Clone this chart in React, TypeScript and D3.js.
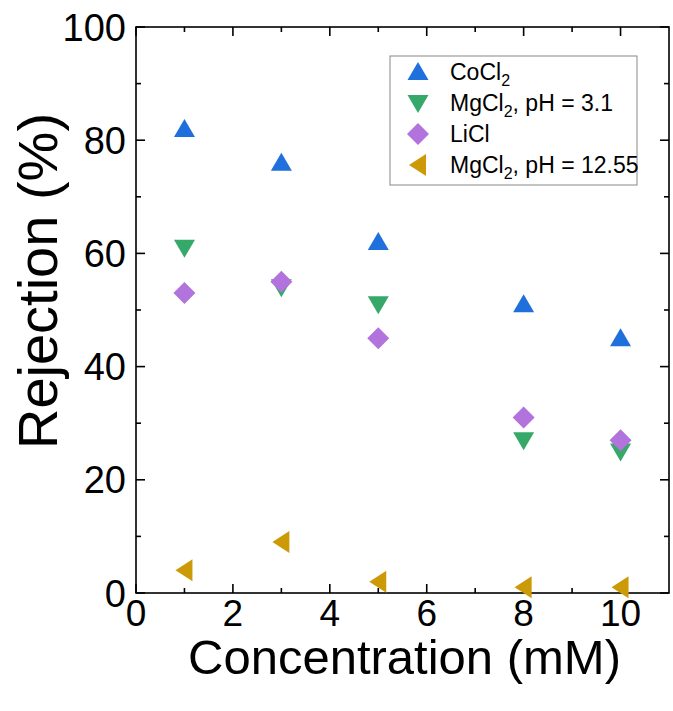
import React from "react";
import * as d3 from "d3";

// concentrations (mM)
const conc = [1, 3, 5, 8, 10];
// rejection (%) per salt
const coCl2 = [82, 76, 62, 51, 45];
const mgCl2Acid = [61, 54, 51, 27, 25];
const liCl = [53, 55, 45, 31, 27];
const mgCl2Base = [4, 9, 2, 1, 1];

const xTicks = [0, 2, 4, 6, 8, 10];
const yTicks = [0, 20, 40, 60, 80, 100];

const W = 673;
const H = 711;
const margin = { top: 27, right: 4, bottom: 118, left: 136 };

const FONT = "Liberation Sans, Arial, sans-serif";

// marker shapes centred on 0,0
const shapes: Record<string, string> = {
  up: "M0,-10L10.5,8L-10.5,8Z",
  down: "M0,10L10.5,-8L-10.5,-8Z",
  diamond: "M0,-11L11,0L0,11L-11,0Z",
  left: "M-9,0L8,-11L8,11Z",
};

const series = [
  { name: "CoCl", sub: "2", rest: "", values: coCl2, color: "#1f6fdc", shape: "up" },
  { name: "MgCl", sub: "2", rest: ", pH = 3.1", values: mgCl2Acid, color: "#36a86a", shape: "down" },
  { name: "LiCl", sub: "", rest: "", values: liCl, color: "#b273dc", shape: "diamond" },
  { name: "MgCl", sub: "2", rest: ", pH = 12.55", values: mgCl2Base, color: "#cc9a07", shape: "left" },
];

export default function App() {
  const x = d3.scaleLinear().domain([0, 11]).range([margin.left, W - margin.right]);
  const y = d3.scaleLinear().domain([0, 100]).range([H - margin.bottom, margin.top]);
  const x0 = x.range()[0], x1 = x.range()[1];
  const y0 = y.range()[0], y1 = y.range()[1];

  const xMinor = d3.range(1, 11, 2);
  const yMinor = d3.range(10, 100, 20);
  const maj = 9, mnr = 5;

  return (
    <svg width={W} height={H} style={{ position: "absolute", left: 0, top: 0, background: "#fff" }}>
      {/* frame */}
      <rect x={x0} y={y1} width={x1 - x0} height={y0 - y1} fill="none" stroke="#000" strokeWidth={1.6} />
      {/* x ticks, inward, bottom and top */}
      {xTicks.map((t) => (
        <g key={"xt" + t}>
          <line x1={x(t)} x2={x(t)} y1={y0} y2={y0 - maj} stroke="#000" strokeWidth={1.6} />
          <line x1={x(t)} x2={x(t)} y1={y1} y2={y1 + maj} stroke="#000" strokeWidth={1.6} />
          <text x={x(t)} y={y0 + 33} textAnchor="middle" fontFamily={FONT} fontSize={37}>{t}</text>
        </g>
      ))}
      {xMinor.map((t) => (
        <g key={"xm" + t}>
          <line x1={x(t)} x2={x(t)} y1={y0} y2={y0 - mnr} stroke="#000" strokeWidth={1.6} />
          <line x1={x(t)} x2={x(t)} y1={y1} y2={y1 + mnr} stroke="#000" strokeWidth={1.6} />
        </g>
      ))}
      {/* y ticks, inward, left and right */}
      {yTicks.map((t) => (
        <g key={"yt" + t}>
          <line x1={x0} x2={x0 + maj} y1={y(t)} y2={y(t)} stroke="#000" strokeWidth={1.6} />
          <line x1={x1} x2={x1 - maj} y1={y(t)} y2={y(t)} stroke="#000" strokeWidth={1.6} />
          <text x={x0 - 10} y={y(t) + 13.5} textAnchor="end" fontFamily={FONT} fontSize={38}>{t}</text>
        </g>
      ))}
      {yMinor.map((t) => (
        <g key={"ym" + t}>
          <line x1={x0} x2={x0 + mnr} y1={y(t)} y2={y(t)} stroke="#000" strokeWidth={1.6} />
          <line x1={x1} x2={x1 - mnr} y1={y(t)} y2={y(t)} stroke="#000" strokeWidth={1.6} />
        </g>
      ))}
      {/* axis titles */}
      <text x={(x0 + x1) / 2 + 2} y={674} textAnchor="middle" fontFamily={FONT} fontSize={49}>
        Concentration (mM)
      </text>
      <text
        transform={`translate(57,281) rotate(-90)`}
        textAnchor="middle"
        fontFamily={FONT}
        fontSize={56}
      >
        Rejection (%)
      </text>
      {/* markers */}
      {series.map((s) => (
        <g key={s.name + s.rest}>
          {s.values.map((v, i) => (
            <path key={i} d={shapes[s.shape]} transform={`translate(${x(conc[i])},${y(v)})`} fill={s.color} />
          ))}
        </g>
      ))}
      {/* legend */}
      <g>
        <rect x={390} y={56} width={247} height={129} fill="#fff" stroke="#888" strokeWidth={1} />
        {series.map((s, i) => {
          const cy = 72 + i * 31;
          return (
            <g key={"lg" + i}>
              <path d={shapes[s.shape]} transform={`translate(418,${cy})`} fill={s.color} />
              <text x={450} y={cy + 8} fontFamily={FONT} fontSize={23}>
                {s.name}
                {s.sub && (
                  <tspan fontSize={16} dy={6}>{s.sub}</tspan>
                )}
                {s.sub && <tspan dy={-6}>{s.rest}</tspan>}
              </text>
            </g>
          );
        })}
      </g>
    </svg>
  );
}
